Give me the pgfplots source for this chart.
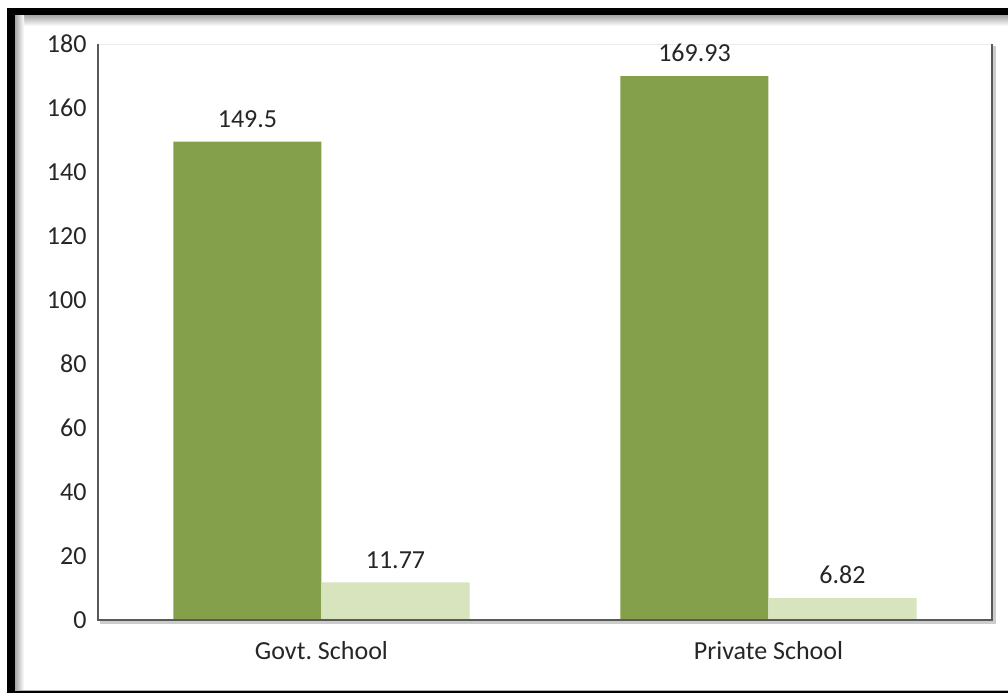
\documentclass[border=0pt]{standalone}
\usepackage{pgfplots}
\pgfplotsset{compat=1.18}
\usepackage{fontspec}
\setmainfont{Carlito}
\frenchspacing
\definecolor{darkg}{RGB}{132,160,75}
\definecolor{lightg}{RGB}{215,228,189}
\definecolor{txt}{RGB}{38,38,38}
\begin{document}
\begin{tikzpicture}
\path[use as bounding box] (0,0) rectangle (504pt,-346.5pt);
\fill[white] (0,0) rectangle (504pt,-346.5pt);
\fill[black] (3.4pt,-3.8pt) rectangle (504pt,-346.5pt);
\fill[white] (7.5pt,-7.5pt) rectangle (504pt,-345pt);
\shade[top color=gray!70,bottom color=white] (7.5pt,-7.5pt) rectangle (504pt,-13pt);
\shade[left color=gray!70,right color=white] (7.5pt,-7.5pt) rectangle (12pt,-345pt);
\draw[gray!60,line width=0.6pt] (7.5pt,-345.2pt) -- (504pt,-345.2pt);
\begin{axis}[
  at={(49pt,-310pt)}, anchor=south west,
  scale only axis, width=447pt, height=288pt,
  xmin=-0.5, xmax=1.5, ymin=0, ymax=180,
  ybar=0pt, bar width=74pt,
  axis line style={draw=none},
  xtick={0,1}, xticklabels={Govt.\ School, Private School},
  ytick={0,20,...,180},
  major tick length=0pt,
  tick label style={font=\fontsize{13}{15}\selectfont, text=txt},
  /pgf/number format/assume math mode=true,
  xticklabel style={yshift=-7pt},
  yticklabel style={xshift=-2.2pt},
  nodes near coords,
  nodes near coords style={font=\fontsize{13}{15}\selectfont, text=txt, yshift=3.5pt},
  point meta=explicit symbolic,
  clip=false,
]
\draw[gray!15] (rel axis cs:0,1) -- (rel axis cs:1,1);
\addplot[fill=darkg, draw=none] coordinates {(0,149.5) [149.5] (1,169.93) [169.93]};
\addplot[fill=lightg, draw=none] coordinates {(0,11.77) [11.77] (1,6.82) [6.82]};
\draw[gray!40, line width=1.5pt] ([xshift=1.2pt,yshift=-1.2pt]rel axis cs:0,0) -- ([xshift=1.2pt,yshift=-1.2pt]rel axis cs:1,0) -- ([xshift=1.2pt,yshift=-1.2pt]rel axis cs:1,1);
\draw[black!65, line width=0.8pt] (rel axis cs:0,1) -- (rel axis cs:0,0) -- (rel axis cs:1,0) -- (rel axis cs:1,1);
\end{axis}
\end{tikzpicture}
\end{document}
